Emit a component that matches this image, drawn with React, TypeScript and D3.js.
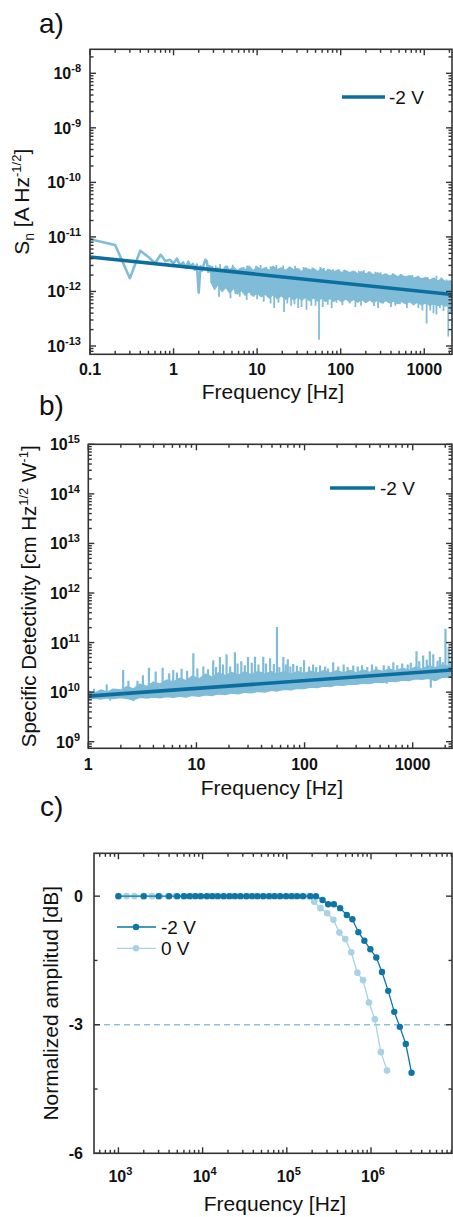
import React from 'react';
import * as d3 from 'd3';

// ---------------- Panel a: noise spectral density (values in pA Hz^-1/2) ----------------
const PA = 1e-12;
const aLowFreq = [0.1, 0.2, 0.3, 0.4, 0.5, 0.6, 0.7, 0.8, 0.9, 1.0, 1.1, 1.2, 1.3, 1.4, 1.5, 1.6, 1.7, 1.8, 1.9, 2.0, 2.1, 2.2, 2.3, 2.4, 2.5, 2.6, 2.7, 2.8, 2.9, 3.0];
const aLowVal = [9.1, 7.1, 1.75, 5.6, 4.3, 3.3, 4.7, 3.6, 3.8, 3.3, 4.0, 3.0, 3.4, 2.7, 3.5, 2.8, 3.2, 2.5, 3.1, 0.95, 2.9, 2.4, 3.1, 3.8, 3.6, 2.3, 2.9, 2.2, 2.8, 1.4];
const aBandFreq = [2.8, 3.1, 3.4, 3.8, 4.2, 4.7, 5.2, 5.8, 6.5, 7.2, 8, 9, 10, 11.2, 12.5, 14, 15.5, 17.5, 19.5, 22, 24.5, 27.5, 30.5, 34, 38, 42.5, 47.5, 53, 59, 66, 74, 82, 92, 103, 115, 128, 143, 160, 178, 199, 222, 248, 277, 309, 345, 385, 430, 480, 536, 598, 668, 746, 833, 930, 1038, 1159, 1294, 1445, 1613, 1801, 2010, 2148];
const aBandUpper = [2.9, 2.4, 2.7, 2.3, 2.9, 2.5, 2.8, 2.4, 2.7, 2.5, 2.9, 2.4, 2.8, 2.5, 2.7, 2.4, 2.9, 2.5, 2.7, 2.4, 2.8, 2.5, 2.6, 2.3, 2.7, 2.4, 2.6, 2.3, 2.6, 2.3, 2.5, 2.25, 2.45, 2.2, 2.4, 2.2, 2.35, 2.1, 2.3, 2.1, 2.25, 2.0, 2.2, 1.95, 2.1, 1.9, 2.05, 1.85, 2.0, 1.8, 1.95, 1.75, 1.85, 1.7, 1.8, 1.6, 1.75, 1.55, 1.7, 1.5, 1.55, 1.45];
const aBandLower = [1.5, 1.1, 1.35, 1.0, 1.2, 0.95, 1.15, 0.9, 1.05, 0.85, 1.0, 0.82, 0.95, 0.8, 0.9, 0.76, 0.88, 0.74, 0.84, 0.72, 0.82, 0.7, 0.8, 0.7, 0.78, 0.68, 0.77, 0.67, 0.76, 0.66, 0.75, 0.66, 0.74, 0.65, 0.74, 0.65, 0.72, 0.64, 0.72, 0.63, 0.7, 0.63, 0.7, 0.62, 0.68, 0.62, 0.67, 0.6, 0.66, 0.6, 0.65, 0.58, 0.64, 0.57, 0.62, 0.56, 0.6, 0.55, 0.58, 0.54, 0.56, 0.52];
const aUpFreq = [3.2, 3.6, 4.4, 5.1, 6.9, 7.6, 9.7, 11, 12.8, 14.5, 17, 20.5, 24.5, 28.5, 32, 36, 42, 46, 51, 57, 63, 70, 81, 95, 110, 140, 165, 190, 220, 260, 300, 350, 420, 520, 610, 720, 850, 1100, 1270, 1400, 1600, 1850, 2050];
const aUpVal = [3.0, 3.2, 3.0, 3.1, 2.8, 3.0, 2.95, 3.05, 2.8, 2.9, 3.05, 3.0, 2.8, 2.95, 2.6, 2.8, 2.6, 2.75, 2.5, 2.8, 2.7, 2.6, 2.55, 2.55, 2.5, 2.3, 2.4, 2.45, 2.35, 2.3, 2.25, 2.1, 2.15, 2.1, 1.95, 2.0, 1.95, 1.85, 1.6, 1.95, 1.8, 1.65, 1.6];
const aDownFreq = [3.5, 4.8, 5.5, 6.2, 7.5, 8.5, 10, 12, 14.5, 16, 18, 21, 23, 25.5, 28, 31, 34, 39, 44.5, 50, 55, 61, 70, 78, 89, 105, 128, 150, 175, 203, 250, 280, 322, 400, 450, 511, 620, 737, 850, 950, 1067, 1180, 1290, 1400, 1540, 1700, 1940, 2050, 2130];
const aDownVal = [0.8, 0.75, 0.9, 0.8, 0.7, 0.85, 0.72, 0.65, 0.6, 0.5, 0.62, 0.42, 0.6, 0.55, 0.58, 0.5, 0.52, 0.46, 0.55, 0.55, 0.13, 0.52, 0.57, 0.5, 0.62, 0.56, 0.6, 0.52, 0.55, 0.62, 0.54, 0.5, 0.6, 0.52, 0.55, 0.58, 0.5, 0.56, 0.5, 0.45, 0.26, 0.45, 0.4, 0.38, 0.5, 0.44, 0.15, 0.4, 0.42];
const aFitFreq = [0.1, 2148];
const aFitVal = [4.3, 0.88];
const aXLabels = [0.1, 1, 10, 100, 1000];
const aYExp = [-8, -9, -10, -11, -12, -13];

// ---------------- Panel b: specific detectivity (values in 1e10 Jones) ----------------
const E10 = 1e10;
const bBandFreq = [1, 1.15, 1.3, 1.5, 1.7, 2, 2.3, 2.6, 3, 3.5, 4, 4.6, 5.3, 6.1, 7, 8, 9.2, 10.6, 12.2, 14, 16, 18.5, 21, 24.5, 28, 32, 37, 43, 49, 56, 65, 75, 86, 99, 114, 131, 150, 173, 199, 229, 263, 302, 347, 399, 459, 528, 607, 698, 803, 923, 1062, 1221, 1404, 1615, 1857, 2310];
const bBandUpper = [1.05, 0.95, 1.1, 1.0, 1.15, 1.1, 1.3, 1.15, 1.45, 1.3, 1.6, 1.45, 1.75, 1.6, 1.9, 1.7, 2.1, 1.85, 2.3, 2.0, 2.45, 2.15, 2.5, 2.2, 2.55, 2.25, 2.6, 2.3, 2.6, 2.3, 2.6, 2.3, 2.6, 2.35, 2.65, 2.4, 2.7, 2.4, 2.7, 2.45, 2.75, 2.45, 2.8, 2.5, 2.85, 2.6, 2.95, 2.65, 3.05, 2.75, 3.2, 2.9, 3.4, 3.1, 3.5, 3.3];
const bBandLower = [0.72, 0.76, 0.73, 0.77, 0.74, 0.78, 0.74, 0.7, 0.79, 0.76, 0.8, 0.77, 0.82, 0.79, 0.84, 0.8, 0.86, 0.83, 0.89, 0.86, 0.93, 0.9, 0.96, 0.93, 1.0, 0.97, 1.04, 1.01, 1.09, 1.06, 1.14, 1.12, 1.2, 1.18, 1.27, 1.24, 1.33, 1.3, 1.4, 1.37, 1.46, 1.44, 1.52, 1.5, 1.6, 1.56, 1.68, 1.64, 1.76, 1.72, 1.86, 1.82, 1.9, 1.72, 2.0, 2.02];
const bPeakFreq = [1.13, 1.48, 2.1, 2.35, 2.85, 3.64, 4.87, 6.1, 7.3, 9.36, 11.6, 14.3, 16.5, 19, 22.7, 26, 30, 34.8, 41.5, 48, 55.6, 63.6, 70, 78.6, 98.9, 120, 139, 184, 230, 282, 340, 420, 540, 662, 800, 1085, 1250, 1350, 1440, 1550, 1790, 2010, 2150];
const bPeakVal = [1.17, 1.43, 2.8, 1.7, 1.7, 3.1, 3.1, 2.8, 2.95, 6.1, 3.3, 4.4, 5.1, 5.8, 6.4, 4.2, 5.1, 5.2, 5.2, 4.8, 20.5, 5.1, 4.6, 3.7, 4.4, 3.6, 3.45, 4.0, 3.6, 3.45, 3.5, 3.6, 3.5, 4.0, 3.8, 6.7, 5.5, 4.5, 6.7, 5.8, 5.1, 19, 8.1];
const bUpFreq = [3.2, 4.2, 5.6, 6.6, 8.2, 10.2, 12.8, 15.2, 17.6, 20.5, 24, 28, 32.5, 37.5, 44, 52, 58.5, 67, 74, 85, 92, 110, 128, 155, 165, 205, 250, 310, 380, 460, 600, 720, 900, 960, 1150, 1700, 1900, 2250];
const bUpVal = [2.2, 2.6, 2.4, 2.5, 2.7, 3.0, 2.9, 3.2, 3.6, 3.3, 3.8, 3.5, 3.9, 3.6, 3.8, 3.7, 3.2, 3.6, 3.3, 3.4, 3.2, 3.3, 3.2, 3.3, 3.0, 3.3, 3.2, 3.3, 3.2, 3.3, 3.4, 3.5, 3.6, 3.9, 4.2, 4.3, 4.0, 4.2];
const bDownFreq = [1.19, 1.59, 2.6, 575, 1470];
const bDownVal = [0.73, 0.68, 0.66, 1.47, 1.22];
const bFitFreq = [1, 2310];
const bFitVal = [0.83, 2.8];
const bXLabels = [1, 10, 100, 1000];
const bYExp = [15, 14, 13, 12, 11, 10, 9];

// ---------------- Panel c: frequency response ----------------
const cFreqM2V = [1000, 2000, 3000, 4000, 5000, 6000, 7000, 8200, 9550, 11200, 13000, 15200, 17800, 20700, 24200, 28300, 33000, 38600, 45000, 52600, 61400, 71700, 83700, 97800, 114000, 133000, 156000, 190000, 222000, 266000, 310000, 362000, 430000, 516000, 601000, 708000, 834000, 982000, 1156000, 1350000, 1600000, 1890000, 2200000, 2590000, 3030000];
const cAmpM2V = [0, 0, 0, 0, 0, 0, 0, 0, 0, 0, 0, 0, 0, 0, 0, 0, 0, 0, 0, 0, 0, 0, 0, 0, 0, 0, 0, 0, 0, -0.09, -0.19, -0.19, -0.28, -0.44, -0.54, -0.84, -1.04, -1.24, -1.43, -1.77, -2.21, -2.7, -3.05, -3.45, -4.12];
const cFreq0V = [1000, 1250, 1550, 2000, 2500, 3100, 3900, 4800, 6000, 7400, 9200, 11500, 14200, 17700, 22000, 27300, 33900, 42100, 52300, 65000, 80700, 100000, 124000, 154000, 183000, 212000, 251000, 302000, 358000, 421000, 495000, 583000, 689000, 804000, 946000, 1110000, 1310000, 1550000];
const cAmp0V = [0, 0, 0, 0, 0, 0, 0, 0, 0, 0, 0, 0, 0, 0, 0, 0, 0, 0, 0, 0, 0, 0, 0, 0, 0, -0.13, -0.28, -0.4, -0.55, -0.85, -1.0, -1.31, -1.79, -1.96, -2.48, -2.87, -3.64, -4.07];
const cXExp = [3, 4, 5, 6];
const cYLabels = [0, -3, -6];
const cYMinor = [-1.5, -4.5];
const cRef = -3;

// ---------------- styles ----------------
const FONT = "'Liberation Sans', Arial, sans-serif";
const AXIS = '#333333';
const DARK = '#0b6e9e';
const LIGHT = '#80bcd7';
const C_DARK = '#0e76a6';
const C_LIGHT = '#a9d2e4';

const isMajor = (v: number) => {
  const l = Math.log10(Math.abs(v));
  return Math.abs(l - Math.round(l)) < 1e-6;
};

type Tick = { p: number; major: boolean };

function Frame({ x0, x1, y0, y1, xt, yt }: { x0: number; x1: number; y0: number; y1: number; xt: Tick[]; yt: Tick[] }) {
  const M = 6, m = 3.5;
  return (
    <g stroke={AXIS} strokeWidth={1.4} fill="none">
      {xt.map((t, i) => (
        <g key={'x' + i}>
          <line x1={t.p} x2={t.p} y1={y1} y2={y1 - (t.major ? M : m)} />
          <line x1={t.p} x2={t.p} y1={y0} y2={y0 + (t.major ? M : m)} />
        </g>
      ))}
      {yt.map((t, i) => (
        <g key={'y' + i}>
          <line y1={t.p} y2={t.p} x1={x0} x2={x0 + (t.major ? M : m)} />
          <line y1={t.p} y2={t.p} x1={x1} x2={x1 - (t.major ? M : m)} />
        </g>
      ))}
      <rect x={x0} y={y0} width={x1 - x0} height={y1 - y0} strokeWidth={1.6} />
    </g>
  );
}

const logTicks = (s: d3.ScaleLogarithmic<number, number>): Tick[] => {
  const [a, b] = s.domain();
  return s.ticks().filter(v => v >= a * 0.999 && v <= b * 1.001).map(v => ({ p: s(v), major: isMajor(v) }));
};

function SpectrumPanel(props: {
  id: string; x: d3.ScaleLogarithmic<number, number>; y: d3.ScaleLogarithmic<number, number>; unit: number;
  bandF: number[]; bandU: number[]; bandL: number[];
  spikes: [number[], number[]][]; spikeWidth: number;
  fitF: number[]; fitV: number[]; lowF?: number[]; lowV?: number[];
}) {
  const { id, x, y, unit } = props;
  const [x0, x1] = x.range();
  const [y1, y0] = y.range();
  const area = d3.area<number>()
    .x((_, i) => x(props.bandF[i]))
    .y0((_, i) => y(props.bandL[i] * unit))
    .y1((_, i) => y(props.bandU[i] * unit));
  const line = d3.line<[number, number]>().x(d => x(d[0])).y(d => y(d[1] * unit));
  const fitPts: [number, number][] = props.fitF.map((f, i) => [f, props.fitV[i]]);
  const fitY = d3.scaleLinear().domain([x(props.fitF[0]), x(props.fitF[1])]).range([y(props.fitV[0] * unit), y(props.fitV[1] * unit)]);
  const spikes: [number, number][] = [];
  props.spikes.forEach(([fs, vs]) => fs.forEach((f, i) => spikes.push([f, vs[i]])));
  return (
    <g>
      <clipPath id={id}>
        <rect x={x0} y={y0} width={x1 - x0} height={y1 - y0} />
      </clipPath>
      <g clipPath={`url(#${id})`}>
        {props.lowF && props.lowV && (
          <path d={line(props.lowF.map((f, i) => [f, props.lowV![i]]))!} fill="none" stroke={LIGHT} strokeWidth={2.6} strokeLinejoin="round" />
        )}
        <path d={area(props.bandF)!} fill={LIGHT} stroke={LIGHT} strokeWidth={1.5} strokeLinejoin="round" />
        {spikes.map(([f, v], i) => (
          <line key={i} x1={x(f)} x2={x(f)} y1={fitY(x(f))} y2={y(v * unit)} stroke={LIGHT} strokeWidth={props.spikeWidth} />
        ))}
        <path d={line(fitPts)!} fill="none" stroke={DARK} strokeWidth={3.6} />
      </g>
    </g>
  );
}

export default function App() {
  // panel a scales
  const aX = d3.scaleLog().domain([0.1, 2148]).range([90, 452]);
  const aY = d3.scaleLog().domain([Math.pow(10, -13.152), Math.pow(10, -7.56)]).range([354.3, 49.3]);
  // panel b scales
  const bX = d3.scaleLog().domain([1, 2310]).range([88.3, 452]);
  const bY = d3.scaleLog().domain([Math.pow(10, 8.867), 1e15]).range([748.3, 444.3]);
  // panel c scales
  const cX = d3.scaleLog().domain([Math.pow(10, 2.71), Math.pow(10, 6.962)]).range([94, 452]);
  const cY = d3.scaleLinear().domain([-6, 1]).range([1153.3, 853.3]);

  const m2vPts = cFreqM2V.map((f, i) => [cX(f), cY(cAmpM2V[i])] as [number, number]);
  const z0vPts = cFreq0V.map((f, i) => [cX(f), cY(cAmp0V[i])] as [number, number]);
  const lineGen = d3.line<[number, number]>();

  const cYTicks: Tick[] = [
    ...cYLabels.map(v => ({ p: cY(v), major: true })),
    ...cYMinor.map(v => ({ p: cY(v), major: false })),
  ];

  return (
    <svg width={453} height={1217} style={{ position: 'absolute', left: 0, top: 0, display: 'block' }} fontFamily={FONT}>
      <rect width={453} height={1217} fill="#fff" />

      {/* ===== Panel a ===== */}
      <text x={39} y={33} fontSize={28} fill="#111">a)</text>
      <SpectrumPanel id="clipA" x={aX} y={aY} unit={PA}
        bandF={aBandFreq} bandU={aBandUpper} bandL={aBandLower}
        spikes={[[aUpFreq, aUpVal], [aDownFreq, aDownVal]]} spikeWidth={1.8}
        fitF={aFitFreq} fitV={aFitVal} lowF={aLowFreq} lowV={aLowVal} />
      <Frame x0={90} x1={452} y0={49.3} y1={354.3} xt={logTicks(aX)} yt={logTicks(aY)} />
      {aXLabels.map(v => (
        <text key={v} x={aX(v)} y={375} textAnchor="middle" fontSize={16} fontWeight="bold" fill="#111">{String(v)}</text>
      ))}
      {aYExp.map(e => (
        <text key={e} x={81} y={aY(Math.pow(10, e)) + 6} textAnchor="end" fontSize={16} fontWeight="bold" fill="#111">
          10<tspan dy={-7} fontSize={11}>{String(e)}</tspan>
        </text>
      ))}
      <text x={273} y={399} textAnchor="middle" fontSize={21} fill="#111">Frequency [Hz]</text>
      <text transform={`translate(29,${(49.3 + 354.3) / 2}) rotate(-90)`} textAnchor="middle" fontSize={21} fill="#111">
        S<tspan dy={5} fontSize={14}>n</tspan><tspan dy={-5}> [A Hz</tspan><tspan dy={-8} fontSize={13}>-1/2</tspan><tspan dy={8}>]</tspan>
      </text>
      <line x1={342} x2={385} y1={97} y2={97} stroke={DARK} strokeWidth={3.6} />
      <text x={389} y={103.5} fontSize={19} fill="#111">-2 V</text>

      {/* ===== Panel b ===== */}
      <text x={39} y={415} fontSize={28} fill="#111">b)</text>
      <SpectrumPanel id="clipB" x={bX} y={bY} unit={E10}
        bandF={bBandFreq} bandU={bBandUpper} bandL={bBandLower}
        spikes={[[bUpFreq, bUpVal], [bPeakFreq, bPeakVal], [bDownFreq, bDownVal]]} spikeWidth={2.2}
        fitF={bFitFreq} fitV={bFitVal} />
      <Frame x0={88.3} x1={452} y0={444.3} y1={748.3} xt={logTicks(bX)} yt={logTicks(bY)} />
      {bXLabels.map(v => (
        <text key={v} x={bX(v)} y={770} textAnchor="middle" fontSize={16} fontWeight="bold" fill="#111">{String(v)}</text>
      ))}
      {bYExp.map(e => (
        <text key={e} x={80} y={bY(Math.pow(10, e)) + 6} textAnchor="end" fontSize={16} fontWeight="bold" fill="#111">
          10<tspan dy={-7} fontSize={11}>{String(e)}</tspan>
        </text>
      ))}
      <text x={272} y={795} textAnchor="middle" fontSize={21} fill="#111">Frequency [Hz]</text>
      <text transform={`translate(36,${(444.3 + 748.3) / 2}) rotate(-90)`} textAnchor="middle" fontSize={20.5} fill="#111">
        Specific Detectivity [cm Hz<tspan dy={-8} fontSize={13}>1/2</tspan><tspan dy={8}> W</tspan><tspan dy={-8} fontSize={13}>-1</tspan><tspan dy={8}>]</tspan>
      </text>
      <line x1={330} x2={375} y1={488} y2={488} stroke={DARK} strokeWidth={3.6} />
      <text x={380} y={494.5} fontSize={19} fill="#111">-2 V</text>

      {/* ===== Panel c ===== */}
      <text x={40} y={816} fontSize={28} fill="#111">c)</text>
      <line x1={94} x2={452} y1={cY(cRef)} y2={cY(cRef)} stroke="#8fc0dd" strokeWidth={1.4} strokeDasharray="6 4" />
      <g>
        <path d={lineGen(z0vPts)!} fill="none" stroke={C_LIGHT} strokeWidth={1.3} />
        {z0vPts.map((p, i) => <circle key={i} cx={p[0]} cy={p[1]} r={3.3} fill={C_LIGHT} />)}
        <path d={lineGen(m2vPts)!} fill="none" stroke={C_DARK} strokeWidth={1.3} />
        {m2vPts.map((p, i) => <circle key={i} cx={p[0]} cy={p[1]} r={3.2} fill={C_DARK} />)}
      </g>
      <Frame x0={94} x1={452} y0={853.3} y1={1153.3} xt={logTicks(cX)} yt={cYTicks} />
      {cXExp.map(e => (
        <text key={e} x={cX(Math.pow(10, e)) + 2} y={1182} textAnchor="middle" fontSize={16} fontWeight="bold" fill="#111">
          10<tspan dy={-7} fontSize={11}>{String(e)}</tspan>
        </text>
      ))}
      {cYLabels.map(v => (
        <text key={v} x={83} y={cY(v) + 5.5} textAnchor="end" fontSize={16} fontWeight="bold" fill="#111">{String(v)}</text>
      ))}
      <text x={275} y={1211} textAnchor="middle" fontSize={21} fill="#111">Frequency [Hz]</text>
      <text transform={`translate(58,${(853.3 + 1153.3) / 2}) rotate(-90)`} textAnchor="middle" fontSize={21} fill="#111">
        Normalized amplitud [dB]
      </text>
      {/* legend c */}
      <line x1={117} x2={156} y1={927} y2={927} stroke={C_DARK} strokeWidth={1.3} />
      <circle cx={136} cy={927} r={3.2} fill={C_DARK} />
      <text x={161} y={933.5} fontSize={19} fill="#111">-2 V</text>
      <line x1={117} x2={156} y1={948.3} y2={948.3} stroke={C_LIGHT} strokeWidth={1.3} />
      <circle cx={136} cy={948.3} r={3.3} fill={C_LIGHT} />
      <text x={161} y={955} fontSize={19} fill="#111">0 V</text>
    </svg>
  );
}
